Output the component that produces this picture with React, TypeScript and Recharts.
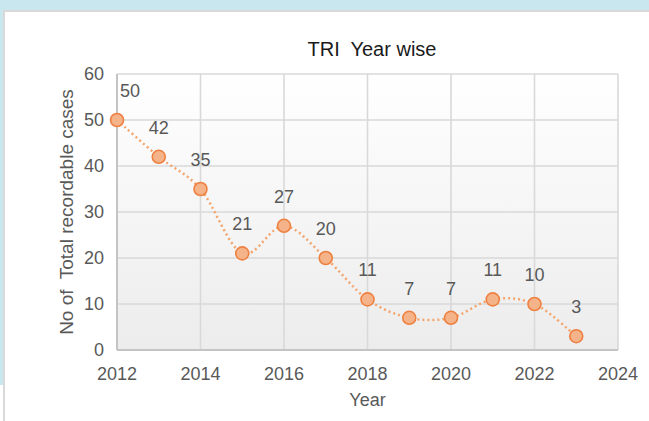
import React from "react";
import { LineChart, Line, XAxis, YAxis, CartesianGrid, LabelList } from "recharts";

const years = [2012, 2013, 2014, 2015, 2016, 2017, 2018, 2019, 2020, 2021, 2022, 2023];
const triCases = [50, 42, 35, 21, 27, 20, 11, 7, 7, 11, 10, 3];
const xTicks = [2012, 2014, 2016, 2018, 2020, 2022, 2024];
const yTicks = [0, 10, 20, 30, 40, 50, 60];
const chartTitle = "TRI  Year wise";
const yTitle = "No of  Total recordable cases";
const xTitle = "Year";

const data = years.map((y, i) => ({ year: y, tri: triCases[i] }));

const FONT = '"Liberation Sans", Arial, sans-serif';

// Excel-like smoothed line (Catmull-Rom as cubic Bezier)
function excelCurve(context: any) {
  let pts: number[][] = [];
  return {
    areaStart() {},
    areaEnd() {},
    lineStart() {
      pts = [];
    },
    lineEnd() {
      if (!pts.length) return;
      context.moveTo(pts[0][0], pts[0][1]);
      for (let i = 0; i < pts.length - 1; i++) {
        const p0 = pts[i - 1] || pts[i];
        const p1 = pts[i];
        const p2 = pts[i + 1];
        const p3 = pts[i + 2] || p2;
        context.bezierCurveTo(
          p1[0] + (p2[0] - p0[0]) / 6,
          p1[1] + (p2[1] - p0[1]) / 6,
          p2[0] - (p3[0] - p1[0]) / 6,
          p2[1] - (p3[1] - p1[1]) / 6,
          p2[0],
          p2[1]
        );
      }
    },
    point(x: number, y: number) {
      pts.push([+x, +y]);
    },
  };
}

const renderValueLabel = (props: any) => {
  const { x, y, value, index } = props;
  const dx = index === 0 ? 13 : 0;
  return (
    <text
      x={x + dx}
      y={y - 29}
      textAnchor="middle"
      dominantBaseline="central"
      fill="#595959"
      fontSize={18}
      fontFamily={FONT}
    >
      {value}
    </text>
  );
};

const renderYTitle = (props: any) => {
  const vb = props.viewBox || {};
  const cx = 66;
  const cy = vb.y + vb.height / 2;
  return (
    <text
      x={cx}
      y={cy}
      transform={`rotate(-90, ${cx}, ${cy})`}
      textAnchor="middle"
      dominantBaseline="central"
      fill="#595959"
      fontSize={19}
      fontFamily={FONT}
      style={{ whiteSpace: "pre" }}
    >
      {yTitle}
    </text>
  );
};

const renderXTitle = (props: any) => {
  const vb = props.viewBox || {};
  const cx = vb.x + vb.width / 2;
  return (
    <text x={cx} y={406} textAnchor="middle" fill="#595959" fontSize={18} fontFamily={FONT}>
      {xTitle}
    </text>
  );
};

export default function App() {
  return (
    <div
      style={{
        position: "absolute",
        left: 0,
        top: 0,
        width: 649,
        height: 421,
        background: "#ffffff",
        overflow: "hidden",
        fontFamily: FONT,
      }}
    >
      <div style={{ position: "absolute", left: 0, top: 0, width: 649, height: 10, background: "#c8e7ef" }} />
      <div style={{ position: "absolute", left: 0, top: 10, width: 3, height: 375, background: "#c8e7ef" }} />
      <div
        style={{
          position: "absolute",
          left: 3,
          top: 10,
          width: 660,
          height: 430,
          borderLeft: "2px solid #d9d9d9",
          borderTop: "2px solid #d9d9d9",
        }}
      />
      <svg width={0} height={0} style={{ position: "absolute" }}>
        <defs>
          <linearGradient id="plotBg" x1="0" y1="0" x2="0" y2="1">
            <stop offset="0%" stopColor="#ffffff" />
            <stop offset="100%" stopColor="#ececec" />
          </linearGradient>
        </defs>
      </svg>
      <div
        style={{
          position: "absolute",
          left: 272,
          top: 39,
          width: 200,
          textAlign: "center",
          fontSize: 20,
          lineHeight: "20px",
          color: "#1a1a1a",
          whiteSpace: "pre",
        }}
      >
        {chartTitle}
      </div>
      <div style={{ position: "absolute", left: 0, top: 0 }}>
        <LineChart
          width={649}
          height={421}
          data={data}
          margin={{ top: 74, right: 31, bottom: 0, left: 57 }}
        >
          <CartesianGrid
            stroke="#d9d9d9"
            strokeWidth={1.6}
            fill="url(#plotBg)"
            fillOpacity={1}
          />
          <XAxis
            type="number"
            dataKey="year"
            domain={[2012, 2024]}
            ticks={xTicks}
            interval={0}
            tickSize={0}
            tickMargin={17}
            axisLine={{ stroke: "#c4c4c4", strokeWidth: 2 }}
            tick={{ fill: "#595959", fontSize: 18, fontFamily: FONT }}
            label={renderXTitle}
            height={71}
          />
          <YAxis
            type="number"
            domain={[0, 60]}
            ticks={yTicks}
            interval={0}
            width={60}
            tickSize={0}
            tickMargin={13}
            axisLine={{ stroke: "#c4c4c4", strokeWidth: 2 }}
            tick={{ fill: "#595959", fontSize: 18, fontFamily: FONT }}
            label={renderYTitle}
          />
          <Line
            dataKey="tri"
            type={excelCurve as any}
            stroke="#f5a46c"
            strokeWidth={2.5}
            strokeDasharray="2 3"
            dot={{ r: 6.5, fill: "#f5b38a", stroke: "#ee8040", strokeWidth: 1.6, strokeDasharray: "" }}
            activeDot={false}
            isAnimationActive={false}
          >
            <LabelList dataKey="tri" content={renderValueLabel} />
          </Line>
        </LineChart>
      </div>
    </div>
  );
}
